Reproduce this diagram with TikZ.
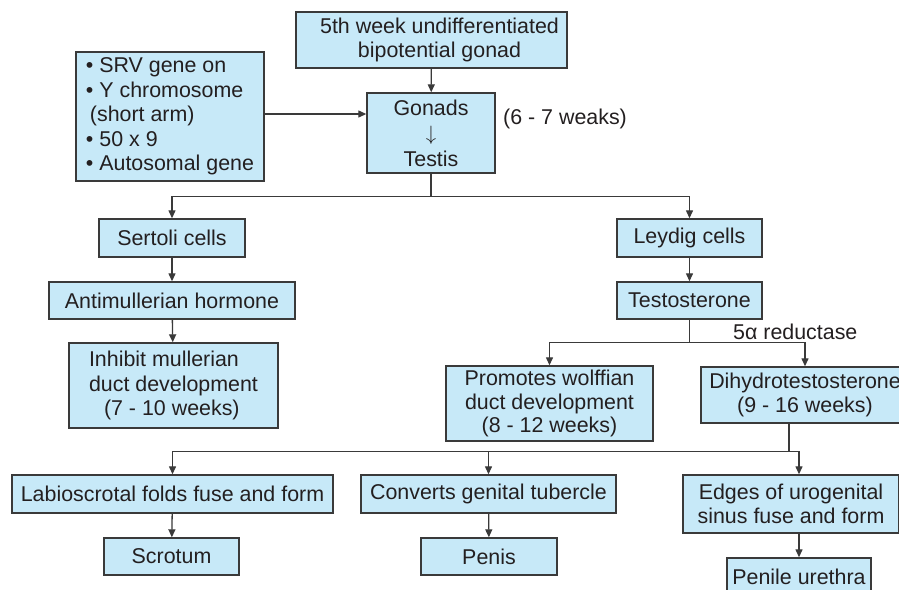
\documentclass[tikz,border=0pt]{standalone}
\usepackage{fontspec}
\setmainfont{Liberation Sans}
\usetikzlibrary{arrows.meta}
\definecolor{boxfill}{RGB}{199,233,248}
\definecolor{ink}{RGB}{35,31,32}
\definecolor{rule}{RGB}{58,58,58}

\begin{document}
\begin{tikzpicture}[x=1pt,y=-1pt,
  every node/.style={text=ink, font=\fontsize{21.4}{24.5}\selectfont},
  stage/.style={draw=rule, line width=1.4pt, fill=boxfill, inner sep=0pt, align=center},
  flow/.style={draw=rule, line width=1.3pt, -{Triangle[length=8pt,width=7pt]}},
  link/.style={draw=rule, line width=1.3pt}]
\clip (0,0) rectangle (899,589);
\fill[white] (0,0) rectangle (899,589);

% first stage: gonad and sex-determining factors
\node[stage, minimum width=271, minimum height=56] (top) at (431.5,40)
  {\hspace*{16pt}5th week undifferentiated\\\hspace*{16pt}bipotential gonad};
\node[stage, align=left, minimum width=188, minimum height=129] (src) at (170,116.5)
  {• SRV gene on\\• Y chromosome\\\hspace*{4pt}(short arm)\\• 50 x 9\\• Autosomal gene};
\node[stage, minimum width=128, minimum height=80, font=\fontsize{21.4}{25.5}\selectfont] (gonads) at (431,133)
  {Gonads\\$\downarrow$\\Testis};
\node[anchor=west, inner sep=0pt] (weeks) at (503,119) {(6 - 7 weaks)};

% Sertoli branch
\node[stage, minimum width=146, minimum height=38] (sertoli) at (172,238) {Sertoli cells};
\node[stage, minimum width=246, minimum height=37] (amh) at (172,300.5) {Antimullerian hormone};
\node[stage, align=left, minimum width=209, minimum height=85] (inhibit) at (173.5,385.5)
  {Inhibit mullerian\\duct development\\\hspace*{15pt}(7 - 10 weeks)};

% Leydig branch
\node[stage, minimum width=145, minimum height=38] (leydig) at (689.5,238) {Leydig cells};
\node[stage, minimum width=145, minimum height=37] (testo) at (689.5,300.5) {Testosterone};
\node[anchor=west, inner sep=0pt] (enzyme) at (733,332) {5α reductase};
\node[stage, minimum width=207, minimum height=75, font=\fontsize{21.4}{23.5}\selectfont] (wolff) at (549.5,403.5)
  {Promotes wolffian\\duct development\\(8 - 12 weeks)};
\node[stage, minimum width=208, minimum height=56] (dht) at (805,395)
  {Dihydrotestosterone\\(9 - 16 weeks)};

% external genitalia
\node[stage, minimum width=321, minimum height=38] (labio) at (172.5,494) {Labioscrotal folds fuse and form};
\node[stage, minimum width=255, minimum height=38] (conv) at (488.5,494) {Converts genital tubercle};
\node[stage, minimum width=216, minimum height=58] (edges) at (791,504)
  {Edges of urogenital\\sinus fuse and form};
\node[stage, minimum width=135, minimum height=37] (scrotum) at (171.5,556.5) {Scrotum};
\node[stage, minimum width=136, minimum height=37] (penis) at (489,556.5) {Penis};
\node[stage, minimum width=144, minimum height=38] (urethra) at (799,577) {Penile urethra};

% connectors
\draw[flow] (top) -- (gonads);
\coordinate (feed) at ([yshift=2.5pt]src.east);
\draw[flow] (feed) -- (feed -| gonads.west);

\draw[link] (gonads.south) -- ++(0,23) coordinate (b1);
\draw[flow] (b1) -| (sertoli.north);
\draw[flow] (b1) -| (leydig.north);
\draw[flow] (sertoli) -- (amh);
\draw[flow] (amh) -- (inhibit);
\draw[flow] (leydig) -- (testo);

\draw[link] (testo.south) -- ++(0,23) coordinate (b2);
\draw[flow] (b2) -| (wolff.north);
\draw[flow] (b2) -| (dht.north);

\coordinate (dhtout) at ([xshift=-16pt]dht.south);
\draw[link] (dhtout) -- ++(0,28) coordinate (b3);
\draw[flow] (b3) -| (labio.north);
\draw[flow] (b3) -| (conv.north);
\draw[flow] (b3) -| (edges.north -| urethra.north);
\draw[flow] (labio) -- (scrotum);
\draw[flow] (conv) -- (penis);
\draw[flow] (edges.south -| urethra.north) -- (urethra.north);
\end{tikzpicture}
\end{document}
